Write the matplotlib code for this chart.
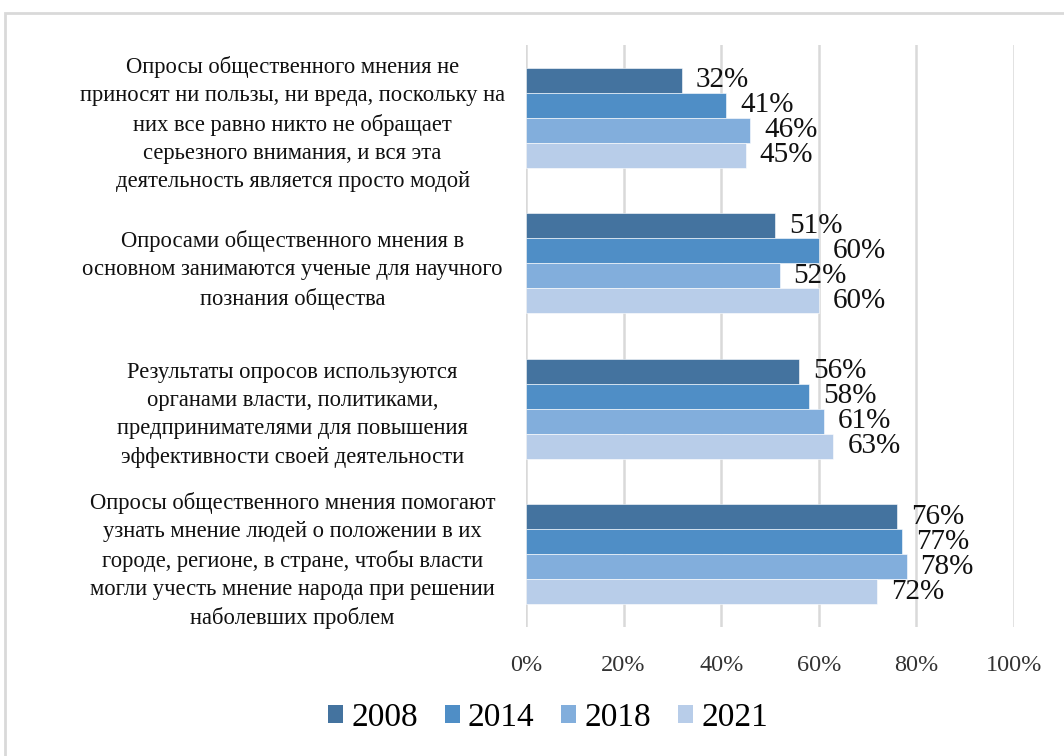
import numpy as np
import matplotlib.pyplot as plt
from matplotlib.patches import Rectangle, Patch
from matplotlib.ticker import PercentFormatter

plt.rcParams['font.family'] = ['Liberation Serif', 'DejaVu Serif']

# данные
categories = [
    "Опросы общественного мнения не\nприносят ни пользы, ни вреда, поскольку на\nних все равно никто не обращает\nсерьезного внимания, и вся эта\nдеятельность является просто модой",
    "Опросами общественного мнения в\nосновном занимаются ученые для научного\nпознания общества",
    "Результаты опросов используются\nорганами власти, политиками,\nпредпринимателями для повышения\nэффективности своей деятельности",
    "Опросы общественного мнения помогают\nузнать мнение людей о положении в их\nгороде, регионе, в стране, чтобы власти\nмогли учесть мнение народа при решении\nнаболевших проблем",
]
years = ["2008", "2014", "2018", "2021"]
v2008 = [32, 51, 56, 76]
v2014 = [41, 60, 58, 77]
v2018 = [46, 52, 61, 78]
v2021 = [45, 60, 63, 72]
series = [v2008, v2014, v2018, v2021]
colors = ["#44739F", "#4F8EC6", "#82AEDC", "#B8CDE9"]

fig = plt.figure(figsize=(10.64, 7.56), dpi=100)
ax = fig.add_axes([526/1064, 1-627/756, 488/1064, 582/756])

# рамка вокруг рисунка
fig.add_artist(Rectangle((5/1064, -0.1), 1.2, 1.1-13/756, transform=fig.transFigure,
                         fill=False, edgecolor="#D9D9D9", linewidth=2))

y = np.arange(len(categories))
h = 0.172
for i, (vals, c) in enumerate(zip(series, colors)):
    pos = y + (i - 1.5) * h
    ax.barh(pos, np.array(vals) / 100, height=h, color=c, edgecolor="white",
            linewidth=0.4, label=years[i], zorder=2)
    for p, v in zip(pos, vals):
        ax.annotate(f"{v}%", (v / 100, p), xytext=(10, 0), textcoords="offset points",
                    ha="left", va="center", fontsize=21, color="#111111", zorder=3)

ax.set_xlim(0, 1)
ax.set_ylim(len(categories) - 0.5, -0.5)
ax.set_xticks(np.arange(0, 1.01, 0.2))
ax.xaxis.set_major_formatter(PercentFormatter(1.0, decimals=0))
ax.set_yticks(y)
ax.set_yticklabels(categories, ha="center", fontsize=16.3, color="#111111", linespacing=1.45)
ax.tick_params(axis="y", length=0, pad=168)
ax.tick_params(axis="x", length=0, pad=20, labelsize=17.5, labelcolor="#333333")
ax.grid(axis="x", color="#D9D9D9", linewidth=1.8, zorder=0)
ax.set_axisbelow(True)
for s in ax.spines.values():
    s.set_visible(False)

handles = [Patch(facecolor=c, label=yr) for c, yr in zip(colors, years)]
fig.legend(handles=handles, loc="center", bbox_to_anchor=(548/1064, 1-718/756), ncol=4,
           frameon=False, fontsize=24, handlelength=0.45, handleheight=0.45,
           handletextpad=0.25, columnspacing=0.8)

fig.savefig("out.png", dpi=100)
